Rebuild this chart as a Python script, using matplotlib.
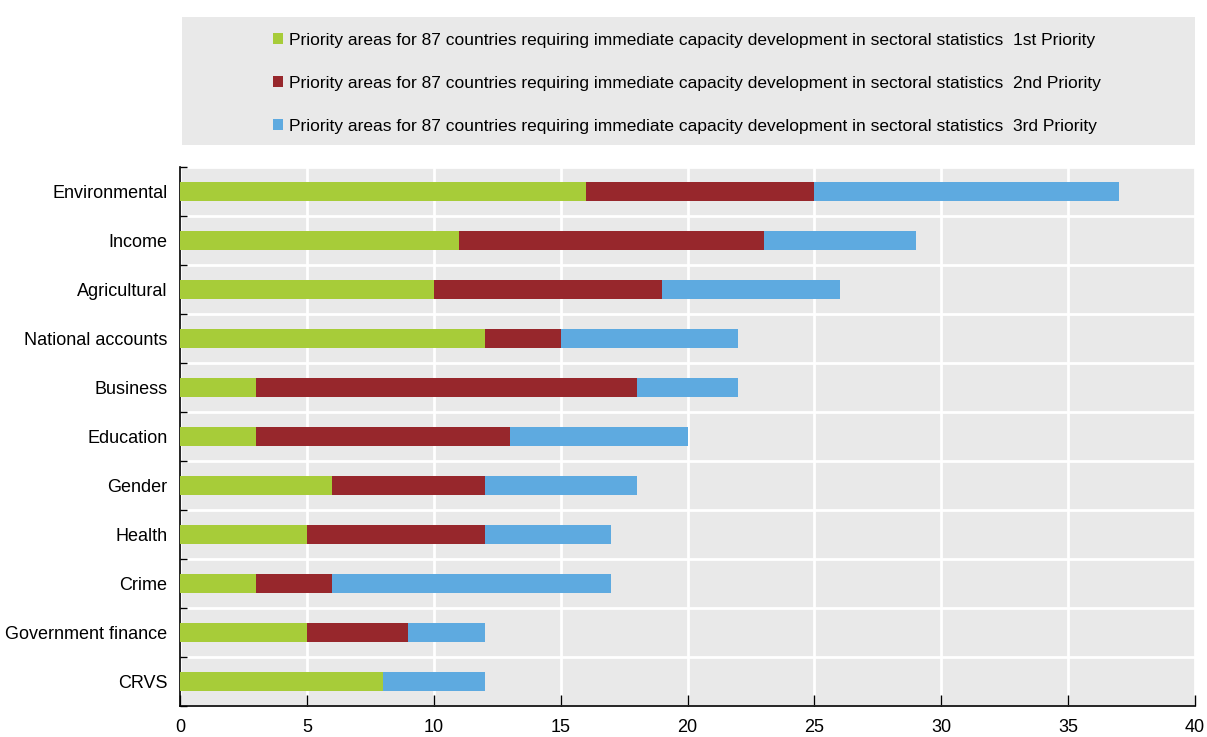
import matplotlib
matplotlib.use("Agg")
import matplotlib.pyplot as plt
from matplotlib.patches import Rectangle
import numpy as np

categories = ["Environmental", "Income", "Agricultural", "National accounts", "Business",
              "Education", "Gender", "Health", "Crime", "Government finance", "CRVS"]
first = [16, 11, 10, 12, 3, 3, 6, 5, 3, 5, 8]
second = [9, 12, 9, 3, 15, 10, 6, 7, 3, 4, 0]
third = [12, 6, 7, 7, 4, 7, 6, 5, 11, 3, 4]
series_labels = [
    "Priority areas for 87 countries requiring immediate capacity development in sectoral statistics  1st Priority",
    "Priority areas for 87 countries requiring immediate capacity development in sectoral statistics  2nd Priority",
    "Priority areas for 87 countries requiring immediate capacity development in sectoral statistics  3rd Priority",
]
colors = ["#A7CC39", "#97272C", "#5EAAE0"]
xticks = [0, 5, 10, 15, 20, 25, 30, 35, 40]

plt.rcParams['font.family'] = ['Liberation Sans Narrow', 'Liberation Sans', 'DejaVu Sans']

fig = plt.figure(figsize=(12.07, 7.37), dpi=100)
ax = fig.add_axes([180/1207, 31/737, 1015/1207, 539/737])
ax.set_facecolor("#e9e9e9")

y = np.arange(len(categories))
f = np.array(first); s = np.array(second); t = np.array(third)
h = []
h.append(ax.barh(y, f, height=0.4, color=colors[0], label=series_labels[0], zorder=3))
h.append(ax.barh(y, s, left=f, height=0.4, color=colors[1], label=series_labels[1], zorder=3))
h.append(ax.barh(y, t, left=f + s, height=0.4, color=colors[2], label=series_labels[2], zorder=3))

ax.set_ylim(len(categories) - 0.5, -0.5)
ax.set_xlim(0, 40)
ax.set_yticks(y)
ax.set_yticklabels(categories, fontsize=13)
ax.set_yticks(np.arange(-0.5, len(categories), 1), minor=True)
ax.tick_params(axis='y', which='major', length=0, pad=9)
ax.tick_params(axis='y', which='minor', length=5, direction='in', color='black', width=1)
ax.set_xticks(xticks)
ax.set_xticklabels([str(v) for v in xticks], fontsize=13)
ax.tick_params(axis='x', which='major', length=8, direction='in', width=1, pad=9)

ax.grid(True, axis='x', which='major', color='white', linewidth=2, zorder=1)
ax.grid(True, axis='y', which='minor', color='white', linewidth=2, zorder=1)
ax.grid(False, axis='y', which='major')
ax.set_axisbelow(True)
for sp in ['top', 'right']:
    ax.spines[sp].set_visible(False)
ax.spines['left'].set_color('black')
ax.spines['bottom'].set_color('black')
ax.spines['left'].set_linewidth(1.2)
ax.spines['bottom'].set_linewidth(1.2)

fig.patches.append(Rectangle((182/1207, 1 - 145/737), (1195-182)/1207, (145-17)/737,
                             transform=fig.transFigure, facecolor="#e9e9e9", edgecolor='none', zorder=0))
leg = fig.legend(handles=h, labels=series_labels, loc='upper left',
                 bbox_to_anchor=(273/1207, 1 - 33/737), frameon=False, fontsize=12.5,
                 handlelength=0.6, handleheight=0.6, handletextpad=0.35, labelspacing=1.6,
                 borderaxespad=0, borderpad=0)

fig.savefig("out.png", dpi=100)
